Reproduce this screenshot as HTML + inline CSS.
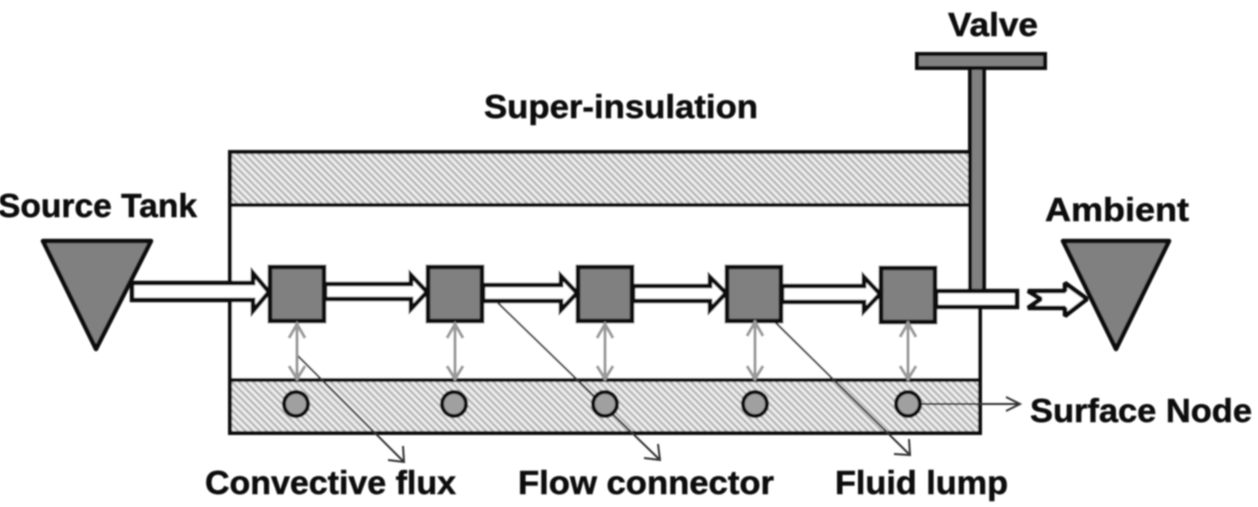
<!DOCTYPE html>
<html><head><meta charset="utf-8">
<style>
html,body{margin:0;padding:0;background:#fff;width:1258px;height:507px;overflow:hidden}
svg{display:block}
text{font-family:"Liberation Sans",sans-serif;font-weight:bold;font-size:33px;fill:#111;stroke:#111;stroke-width:.5px}
</style></head><body>
<svg width="1258" height="507" viewBox="0 0 1258 507" xmlns="http://www.w3.org/2000/svg">
<defs>
<pattern id="h" width="5" height="5" patternUnits="userSpaceOnUse" patternTransform="rotate(45)">
<rect width="5" height="5" fill="#eeeeee"/><rect width="5" height="2.2" fill="#b4b4b4"/>
</pattern>
<filter id="b" x="-2%" y="-2%" width="104%" height="104%"><feGaussianBlur stdDeviation="0.8"/></filter>
</defs>
<g filter="url(#b)">
<!-- outer box -->
<rect x="230" y="152" width="750" height="281" fill="#fff" stroke="#111" stroke-width="4"/>
<rect x="230" y="152" width="740" height="53" fill="url(#h)" stroke="#111" stroke-width="4"/>
<rect x="230" y="380" width="750" height="53" fill="url(#h)" stroke="#111" stroke-width="4"/>
<!-- leaders behind nodes -->
<g fill="none" stroke="#333" stroke-width="2">
<path d="M297 355L404 462M403 446L404 462L388 460"/>
<path d="M498 303L660 460M658 444L660 460L644 458"/>
<path d="M775 322L910 455M909 439L910 455L894 454"/>
<path d="M921 404H1020M1006 397L1020 404L1006 411"/>
</g>
<!-- triangles -->
<polygon points="43,241 151,241 96,349" fill="#808080" stroke="#111" stroke-width="4.5" stroke-linejoin="round"/>
<polygon points="1063,241 1169,241 1116,349" fill="#808080" stroke="#111" stroke-width="4.5" stroke-linejoin="round"/>
<!-- valve -->
<rect x="917" y="54" width="128" height="14" fill="#808080" stroke="#111" stroke-width="4"/>
<rect x="970" y="68" width="14" height="224" fill="#808080" stroke="#111" stroke-width="4"/>
<!-- flow arrows -->
<g fill="#fff" stroke="#111" stroke-width="4.5" stroke-linejoin="miter">
<polygon points="132,283 253,283 253,273 269,292 253,311 253,300 132,300"/>
<polygon points="325,284 411,284 411,275 427,292 411,309 411,299 325,299"/>
<polygon points="483,285 561,285 561,276 577,293 561,310 561,301 483,301"/>
<polygon points="633,286 710,286 710,277 726,293 710,310 710,301 633,301"/>
<polygon points="782,286 864,286 864,277 880,294 864,311 864,302 782,302"/>
<rect x="936" y="291" width="81" height="16"/>
<polygon points="1028,291 1065,291 1065,283 1087,299 1065,316 1065,308 1028,308 1041,299" stroke-linejoin="bevel"/>
</g>
<!-- fluid lumps -->
<g fill="#808080" stroke="#111" stroke-width="4.5">
<rect x="270" y="267" width="54" height="54"/>
<rect x="428" y="267" width="54" height="54"/>
<rect x="578" y="267" width="54" height="54"/>
<rect x="727" y="267" width="54" height="54"/>
<rect x="881" y="268" width="54" height="54"/>
</g>
<!-- convective double arrows -->
<g fill="none" stroke="#999" stroke-width="3">
<path d="M297 324V379M289 338L297 324L305 338M289 366L297 379L305 366"/>
<path d="M455 324V379M447 338L455 324L463 338M447 366L455 379L463 366"/>
<path d="M605 324V379M597 338L605 324L613 338M597 366L605 379L613 366"/>
<path d="M755 322V379M747 336L755 322L763 336M747 366L755 379L763 366"/>
<path d="M908 323V379M900 337L908 323L916 337M900 366L908 379L916 366"/>
</g>
<!-- surface nodes -->
<g fill="#a0a0a0" stroke="#111" stroke-width="4">
<circle cx="296" cy="404" r="12"/>
<circle cx="454" cy="404" r="12"/>
<circle cx="605" cy="404" r="12"/>
<circle cx="755" cy="404" r="12"/>
<circle cx="908" cy="404" r="12"/>
</g>
<!-- labels -->
<text x="948" y="36" textLength="90" lengthAdjust="spacingAndGlyphs">Valve</text>
<text x="484" y="118" textLength="274" lengthAdjust="spacingAndGlyphs">Super-insulation</text>
<text x="-2" y="217" textLength="199" lengthAdjust="spacingAndGlyphs">Source Tank</text>
<text x="1045" y="221" textLength="144" lengthAdjust="spacingAndGlyphs">Ambient</text>
<text x="1030" y="422" textLength="222" lengthAdjust="spacingAndGlyphs">Surface Node</text>
<text x="205" y="494" textLength="251" lengthAdjust="spacingAndGlyphs">Convective flux</text>
<text x="518" y="494" textLength="256" lengthAdjust="spacingAndGlyphs">Flow connector</text>
<text x="835" y="494" textLength="173" lengthAdjust="spacingAndGlyphs">Fluid lump</text>
</g>
</svg>
</body></html>
